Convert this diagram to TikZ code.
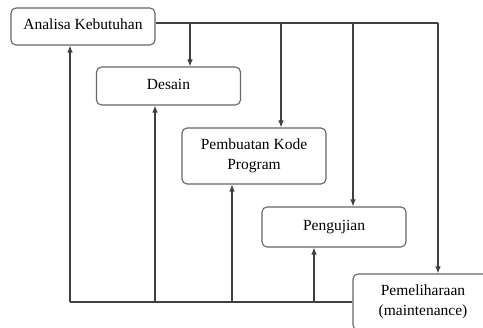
\documentclass[tikz,border=0pt]{standalone}
\usepackage{fontspec}
\setmainfont{Liberation Serif}
\newfontfamily\tahapfont{Liberation Serif}
\usetikzlibrary{arrows.meta}
\tikzset{tahap/.style={draw=black!60, line width=1.1pt, rounded corners=5pt, minimum width=144pt, align=center, text depth=4pt, font=\tahapfont\fontsize{15.5}{20}\selectfont}}
\begin{document}
\begin{tikzpicture}[>={Latex[length=7pt,width=5.5pt]}, x=1pt, y=-1pt, line width=1.1pt, draw=black!75]
\useasboundingbox (0,0) rectangle (483,328);
\node[tahap, minimum height=37pt] (analisa) at (83,26.5){Analisa Kebutuhan};
\node[tahap, minimum height=38pt] (desain) at (168.5,86){Desain};
\node[tahap, minimum height=56pt] (kode) at (254,156){Pembuatan Kode\\Program};
\node[tahap, minimum height=40pt] (uji) at (334,227){Pengujian};
\node[tahap, minimum width=140pt, minimum height=56pt] (pelihara) at (423,302){Pemeliharaan\\(maintenance)};
% garis turun
\coordinate (a1) at (190,23);
\coordinate (a2) at (281,23);
\coordinate (a3) at (353,23);
\coordinate (a4) at (438,23);
\draw (analisa.east |- a4) -- (a4);
\foreach \a/\n in {a1/desain,a2/kode,a3/uji,a4/pelihara}
{
    \draw[->] (\a) -- (\a |- \n.north);
}
% garis balik
\coordinate (b1) at (70,302);
\coordinate (b2) at (155,302);
\coordinate (b3) at (232,302);
\coordinate (b4) at (314,302);
\draw (pelihara.west) -- (b1);
\foreach \b/\n in {b1/analisa,b2/desain,b3/kode,b4/uji}
{
    \draw[->] (\b) -- (\b |- \n.south);
}
\end{tikzpicture}
\end{document}
